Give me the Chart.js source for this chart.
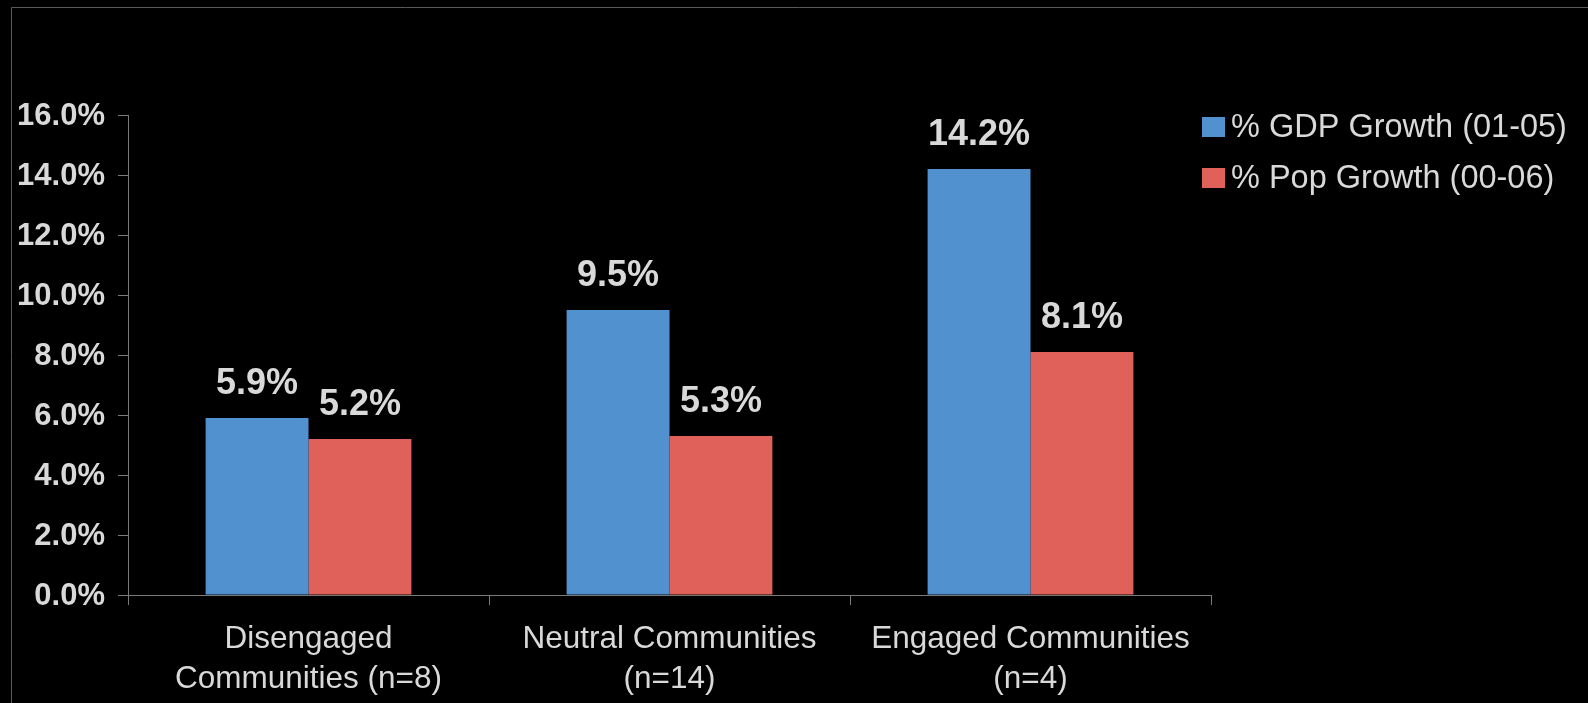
<!DOCTYPE html>
<html>
<head>
<meta charset="utf-8">
<title>Community Engagement and Growth</title>
<script src="https://cdn.jsdelivr.net/npm/chart.js@4.4.1/dist/chart.umd.min.js"></script>
<style>
    html, body { margin: 0; padding: 0; background: #000000; }
    canvas { display: block; }
</style>
</head>
<body>
<canvas id="growthChart" width="1588" height="703"></canvas>
<script>
// Data
const categories = [
    ['Disengaged', 'Communities (n=8)'],
    ['Neutral Communities', '(n=14)'],
    ['Engaged Communities', '(n=4)']
];
const seriesNames = ['% GDP Growth (01-05)', '% Pop Growth (00-06)'];
const gdpGrowth = [5.9, 9.5, 14.2];
const popGrowth = [5.2, 5.3, 8.1];
const yTicks = [0, 2, 4, 6, 8, 10, 12, 14, 16];

// Colors
const colors = {
    blue: '#5291d0',
    red: '#e0605a',
    text: '#d9d9d9',
    axis: '#7a7a7a',
    frame: '#5a5a5a'
};
const fontFamily = "'Liberation Sans', Arial, sans-serif";

// background + frame line (top and left)
const framePlugin = {
    id: 'frame',
    beforeDraw(chart) {
        const ctx = chart.ctx;
        ctx.save();
        ctx.fillStyle = '#000000';
        ctx.fillRect(0, 0, chart.width, chart.height);
        ctx.strokeStyle = colors.frame;
        ctx.lineWidth = 1;
        ctx.beginPath();
        ctx.moveTo(11.5, chart.height);
        ctx.lineTo(11.5, 7.5);
        ctx.lineTo(chart.width, 7.5);
        ctx.stroke();
        ctx.restore();
    }
};

// value labels above the bars
const valueLabels = {
    id: 'valueLabels',
    afterDatasetsDraw(chart) {
        const ctx = chart.ctx;
        ctx.save();
        ctx.font = 'bold 36px ' + fontFamily;
        ctx.fillStyle = colors.text;
        ctx.textAlign = 'center';
        ctx.textBaseline = 'alphabetic';
        chart.data.datasets.forEach(function(ds, i) {
            chart.getDatasetMeta(i).data.forEach(function(bar, j) {
                ctx.fillText(ds.data[j].toFixed(1) + '%', bar.x, bar.y - 24);
            });
        });
        ctx.restore();
    }
};

// legend on the right, drawn from the datasets
const sideLegend = {
    id: 'sideLegend',
    afterDraw(chart) {
        const ctx = chart.ctx;
        ctx.save();
        ctx.font = '32.5px ' + fontFamily;
        ctx.textAlign = 'left';
        ctx.textBaseline = 'alphabetic';
        chart.data.datasets.forEach(function(ds, i) {
            const top = 117 + i * 51;
            ctx.fillStyle = ds.backgroundColor;
            ctx.fillRect(1202, top, 23, 20);
            ctx.fillStyle = colors.text;
            ctx.fillText(ds.label, 1231, top + 20);
        });
        ctx.restore();
    }
};

const ctx = document.getElementById('growthChart').getContext('2d');
const growthChart = new Chart(ctx, {
    type: 'bar',
    data: {
        labels: categories,
        datasets: [{
            label: seriesNames[0],
            data: gdpGrowth,
            backgroundColor: colors.blue,
            borderWidth: 0
        }, {
            label: seriesNames[1],
            data: popGrowth,
            backgroundColor: colors.red,
            borderWidth: 0
        }]
    },
    options: {
        responsive: false,
        animation: false,
        categoryPercentage: 0.57,
        barPercentage: 1.0,
        layout: {
            padding: { top: 115, right: 377, bottom: 0, left: 0 }
        },
        plugins: {
            legend: { display: false },
            tooltip: { enabled: false }
        },
        scales: {
            x: {
                afterFit: function(scale) { scale.height = 108; },
                grid: {
                    offset: true,
                    drawOnChartArea: false,
                    drawTicks: true,
                    tickLength: 10,
                    color: colors.axis
                },
                border: { display: true, color: colors.axis, width: 1 },
                ticks: {
                    color: colors.text,
                    font: { family: fontFamily, size: 31.5, lineHeight: 1.27 },
                    padding: 14,
                    maxRotation: 0,
                    autoSkip: false
                }
            },
            y: {
                min: yTicks[0],
                max: yTicks[yTicks.length - 1],
                afterFit: function(scale) { scale.width = 128; },
                afterBuildTicks: function(scale) {
                    scale.ticks = yTicks.map(function(v) { return { value: v }; });
                },
                grid: {
                    drawOnChartArea: false,
                    drawTicks: true,
                    tickLength: 10,
                    color: colors.axis
                },
                border: { display: true, color: colors.axis, width: 1 },
                ticks: {
                    color: colors.text,
                    font: { family: fontFamily, size: 31, weight: 'bold' },
                    padding: 13,
                    labelOffset: 1,
                    callback: function(value) {
                        return value.toFixed(1) + '%';
                    }
                }
            }
        }
    },
    plugins: [framePlugin, valueLabels, sideLegend]
});
</script>
</body>
</html>
